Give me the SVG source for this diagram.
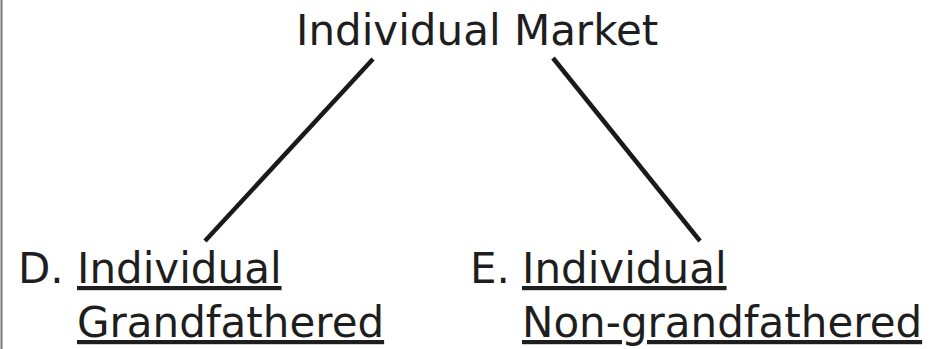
<svg xmlns="http://www.w3.org/2000/svg" width="944" height="349" viewBox="0 0 944 349">
<style>
text{font-family:"DejaVu Sans","Liberation Sans",sans-serif;font-size:42px;fill:#1e1e1e}
.u{text-decoration:underline}
.c{stroke:#1a1a1a;stroke-width:4.5;fill:none}
</style>
<rect width="944" height="349" fill="#ffffff"/>
<line x1="1.5" y1="0" x2="1.5" y2="349" stroke="#777777" stroke-width="2"/>
<g id="node-market">
<text x="296" y="44.5">Individual Market</text>
</g>
<g id="node-d">
<text x="18" y="283">D.</text>
<text class="u" x="77" y="283">Individual</text>
<text class="u" x="77" y="337">Grandfathered</text>
</g>
<g id="node-e">
<text x="470" y="283">E.</text>
<text class="u" x="522" y="283">Individual</text>
<text class="u" x="522" y="337">Non-grandfathered</text>
</g>
<g id="connectors">
<line class="c" x1="373" y1="59" x2="205" y2="241"/>
<line class="c" x1="553" y1="58" x2="700" y2="241"/>
</g>
</svg>
